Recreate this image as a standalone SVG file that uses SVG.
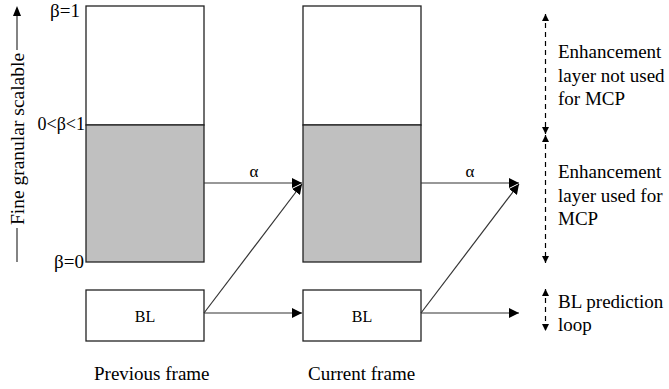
<svg xmlns="http://www.w3.org/2000/svg" width="669" height="389" viewBox="0 0 669 389">
<defs>
<marker id="ah" viewBox="0 0 10 10" refX="10" refY="5" markerWidth="10" markerHeight="10" markerUnits="userSpaceOnUse" orient="auto-start-reverse">
<path d="M0,0 L10,5 L0,10 z" fill="#000"/>
</marker>
<marker id="as" viewBox="0 0 10 10" refX="10" refY="5" markerWidth="10" markerHeight="7" markerUnits="userSpaceOnUse" orient="auto-start-reverse">
<path d="M0,0 L10,5 L0,10 z" fill="#000"/>
</marker>
</defs>
<style>
text{fill:#000}
.box{stroke:#222;stroke-width:1.3}
.ln{stroke:#333;stroke-width:1.2;fill:none}
.dash{stroke:#000;stroke-width:1.2;stroke-dasharray:5,4;fill:none}
</style>
<rect width="669" height="389" fill="#fff"/>
<g id="scale" font-family="'Liberation Serif', 'DejaVu Serif', serif">
<path class="ln" d="M17,262 V228 M17,50 V14"/>
<path d="M17,6 L13,16 L21,16 z" fill="#000"/>
<text font-size="19.5" text-anchor="middle" transform="translate(24,139) rotate(-90)">Fine granular scalable</text>
<text font-size="19" x="80" y="17" text-anchor="end">β=1</text>
<text font-size="18" x="85" y="130" text-anchor="end">0&lt;β&lt;1</text>
<text font-size="19" x="84" y="268" text-anchor="end">β=0</text>
</g>
<g id="prev-el">
<rect class="box" x="86" y="6" width="118" height="119" fill="#fff"/>
<rect class="box" x="86" y="125" width="118" height="137" fill="#c0c0c0"/>
</g>
<g id="prev-bl" font-family="'Liberation Serif', 'DejaVu Serif', serif">
<rect class="box" x="86" y="290" width="118" height="51" fill="#fff"/>
<text font-size="16" x="145" y="322" text-anchor="middle">BL</text>
</g>
<g id="cur-el">
<rect class="box" x="303" y="6" width="118" height="119" fill="#fff"/>
<rect class="box" x="303" y="125" width="118" height="137" fill="#c0c0c0"/>
</g>
<g id="cur-bl" font-family="'Liberation Serif', 'DejaVu Serif', serif">
<rect class="box" x="303" y="290" width="118" height="51" fill="#fff"/>
<text font-size="16" x="362" y="322" text-anchor="middle">BL</text>
</g>
<g id="connectors" font-family="'Liberation Serif', 'DejaVu Serif', serif">
<line class="ln" x1="204" y1="183" x2="302" y2="183" marker-end="url(#ah)"/>
<line class="ln" x1="421" y1="183" x2="519" y2="183" marker-end="url(#ah)"/>
<line class="ln" x1="204" y1="313" x2="302" y2="184" marker-end="url(#ah)"/>
<line class="ln" x1="421" y1="313" x2="519" y2="184" marker-end="url(#ah)"/>
<line class="ln" x1="204" y1="313" x2="302" y2="313" marker-end="url(#ah)"/>
<line class="ln" x1="421" y1="313" x2="519" y2="313" marker-end="url(#ah)"/>
<text font-size="17" x="254" y="177" text-anchor="middle">α</text>
<text font-size="17" x="470" y="177" text-anchor="middle">α</text>
</g>
<g id="legend" font-family="'Liberation Serif', 'DejaVu Serif', serif">
<line class="dash" x1="545.5" y1="14" x2="545.5" y2="134" marker-start="url(#as)" marker-end="url(#as)"/>
<line class="dash" x1="545.5" y1="135" x2="545.5" y2="263" marker-start="url(#as)" marker-end="url(#as)"/>
<line class="dash" x1="545.5" y1="289" x2="545.5" y2="331" marker-start="url(#as)" marker-end="url(#as)"/>
<text font-size="19" x="558" y="58">Enhancement</text>
<text font-size="19" x="558" y="82">layer not used</text>
<text font-size="19" x="558" y="105">for MCP</text>
<text font-size="19" x="558" y="178">Enhancement</text>
<text font-size="19" x="558" y="202">layer used for</text>
<text font-size="19" x="558" y="225">MCP</text>
<text font-size="19" x="558" y="308">BL prediction</text>
<text font-size="19" x="558" y="331">loop</text>
</g>
<g id="labels" font-family="'Liberation Serif', 'DejaVu Serif', serif">
<text font-size="19" x="94" y="380">Previous frame</text>
<text font-size="19" x="308" y="380">Current frame</text>
</g>
</svg>
